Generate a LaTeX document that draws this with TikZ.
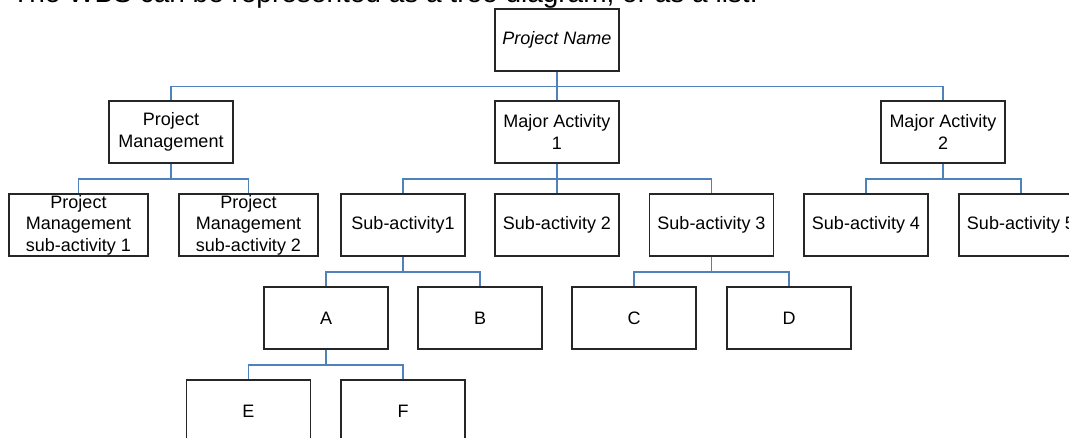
\documentclass[tikz,border=0pt]{standalone}
\usepackage{fontspec}
\setmainfont{Liberation Sans}
\definecolor{wbsblue}{HTML}{4F81BD}
\tikzset{
	wbsbox/.style = {draw = black!85, line width = 1.3pt, minimum width = 124pt, minimum height = 62pt, inner sep = 0pt, align = center, font = \fontsize{18}{21.5}\selectfont},
	wbslink/.style = {draw = wbsblue, line width = 1.3pt}
}

\begin{document}
\begin{tikzpicture}[x = 1pt, y = -1pt]
		\useasboundingbox (0, 0) rectangle (1069, 438);
		\clip (0, 0) rectangle (1069, 438);
		\node[anchor = base west, inner sep = 0pt, font = \fontsize{28}{34}\selectfont] (title) at (12, 2.5) {The WBS can be represented as a tree diagram, or as a list:};
		% levels 0 and 1
		\node[wbsbox, font = \fontsize{18}{21.5}\selectfont\itshape] (pn) at (557, 40) {Project Name};
		\node[wbsbox] (pm) at (171, 132) {Project\\Management};
		\node[wbsbox] (ma1) at (557, 132) {Major Activity\\1};
		\node[wbsbox] (ma2) at (943, 132) {Major Activity\\2};
		% level 2
		\node[wbsbox, minimum width = 139pt] (pms1) at (78.5, 225) {Project\\Management\\sub-activity 1};
		\node[wbsbox, minimum width = 139pt] (pms2) at (248.5, 225) {Project\\Management\\sub-activity 2};
		\node[wbsbox] (sa1) at (403, 225) {Sub-activity1};
		\node[wbsbox] (sa2) at (557, 225) {Sub-activity 2};
		\node[wbsbox] (sa3) at (711.5, 225) {Sub-activity 3};
		\node[wbsbox] (sa4) at (866, 225) {Sub-activity 4};
		\node[wbsbox] (sa5) at (1021, 225) {Sub-activity 5};
		% levels 3 and 4
		\foreach \n/\x/\y in {A/326/318, B/480/318, C/634/318, D/789/318, E/248.5/411, F/403/411}
		{
			\node[wbsbox] (\n) at (\x, \y) {\n};
		}
		\foreach \child in {pm, ma1, ma2}
			\draw[wbslink] (pn.south) -- ++(0, 15) -| (\child.north);
		\foreach \child in {pms1, pms2}
			\draw[wbslink] (pm.south) -- ++(0, 15.5) -| (\child.north);
		\foreach \child in {sa1, sa2, sa3}
			\draw[wbslink] (ma1.south) -- ++(0, 15.5) -| (\child.north);
		\foreach \child in {sa4, sa5}
			\draw[wbslink] (ma2.south) -- ++(0, 15.5) -| (\child.north);
		\foreach \child in {A, B}
			\draw[wbslink] (sa1.south) -- ++(0, 15.5) -| (\child.north);
		\foreach \child in {C, D}
			\draw[wbslink] (sa3.south) -- ++(0, 15.5) -| (\child.north);
		\foreach \child in {E, F}
			\draw[wbslink] (A.south) -- ++(0, 15.5) -| (\child.north);
		\end{tikzpicture}
\end{document}
